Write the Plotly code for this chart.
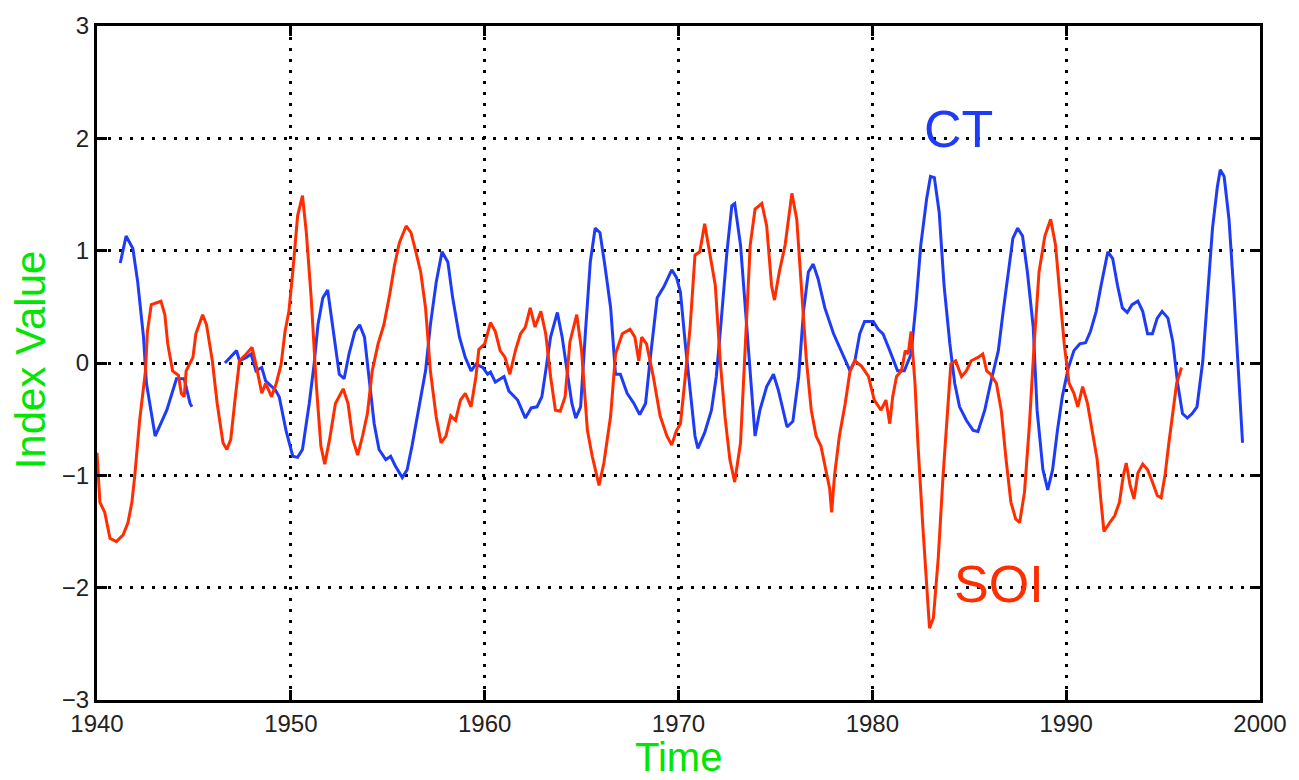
import plotly.graph_objects as go

# ---- data ----
ct_years = [1941.2, 1941.5, 1941.85, 1942.1, 1942.4, 1942.55, 1943.0, 1943.6, 1944.1, 1944.5, 1944.8, 1944.9,
            None,
            1946.6, 1947.2, 1947.35, 1947.7, 1947.95, 1948.2, 1948.5, 1948.7, 1949.2, 1949.4, 1949.75,
            1950.1, 1950.35, 1950.6, 1950.95, 1951.2, 1951.4, 1951.65, 1951.9, 1952.15, 1952.5, 1952.75,
            1953.0, 1953.3, 1953.55, 1953.8, 1954.05, 1954.3, 1954.55, 1954.9, 1955.15, 1955.4, 1955.75,
            1956.0, 1956.25, 1956.6, 1956.95, 1957.2, 1957.5, 1957.8, 1958.1, 1958.35, 1958.7, 1959.0,
            1959.3, 1959.55, 1959.9, 1960.15, 1960.3, 1960.55, 1961.0, 1961.25, 1961.7, 1962.1, 1962.4,
            1962.7, 1962.95, 1963.15, 1963.4, 1963.75, 1964.0, 1964.25, 1964.5, 1964.7, 1964.95, 1965.2,
            1965.45, 1965.7, 1965.95, 1966.2, 1966.5, 1966.75, 1967.0, 1967.35, 1967.7, 1968.0, 1968.3,
            1968.55, 1968.9, 1969.25, 1969.65, 1969.9, 1970.1, 1970.35, 1970.6, 1970.85, 1971.0, 1971.35,
            1971.7, 1971.95, 1972.2, 1972.5, 1972.75, 1972.9, 1973.2, 1973.45, 1973.7, 1973.95, 1974.2,
            1974.55, 1974.9, 1975.15, 1975.6, 1975.9, 1976.2, 1976.45, 1976.7, 1976.95, 1977.2, 1977.55,
            1978.0, 1978.4, 1978.85, 1979.1, 1979.35, 1979.6, 1980.05, 1980.3, 1980.55, 1980.9, 1981.3,
            1981.65, 1982.0, 1982.25, 1982.5, 1982.8, 1983.0, 1983.2, 1983.45, 1983.7, 1984.0, 1984.25,
            1984.5, 1984.85, 1985.2, 1985.45, 1985.8, 1986.1, 1986.5, 1986.75, 1987.0, 1987.25, 1987.5,
            1987.75, 1988.0, 1988.3, 1988.5, 1988.8, 1989.05, 1989.3, 1989.55, 1989.8, 1990.1, 1990.4,
            1990.7, 1991.0, 1991.25, 1991.55, 1991.8, 1992.15, 1992.4, 1992.65, 1992.9, 1993.15, 1993.4,
            1993.7, 1993.95, 1994.2, 1994.45, 1994.7, 1994.95, 1995.25, 1995.5, 1995.75, 1996.0, 1996.25,
            1996.5, 1996.75, 1997.05, 1997.3, 1997.55, 1997.8, 1997.95, 1998.15, 1998.4, 1998.65, 1998.85,
            1999.0, 1999.1]
ct_values = [0.89, 1.13, 1.02, 0.72, 0.23, -0.18, -0.65, -0.42, -0.14, -0.14, -0.36, -0.39,
             None,
             0.0, 0.11, 0.02, 0.05, 0.08, -0.07, -0.04, -0.16, -0.24, -0.3, -0.6,
             -0.83, -0.84, -0.77, -0.36, -0.01, 0.34, 0.58, 0.65, 0.34, -0.1, -0.14,
             0.08, 0.28, 0.34, 0.23, -0.16, -0.54, -0.77, -0.86, -0.83, -0.92, -1.02,
             -0.95, -0.74, -0.42, -0.07, 0.34, 0.72, 0.99, 0.9, 0.58, 0.23, 0.05,
             -0.07, -0.01, -0.04, -0.1, -0.08, -0.17, -0.12, -0.25, -0.33, -0.49, -0.4,
             -0.39, -0.3, -0.07, 0.23, 0.45, 0.23, -0.07, -0.36, -0.49, -0.39, 0.28,
             0.9, 1.2, 1.16, 0.87, 0.49, -0.1, -0.1, -0.27, -0.36, -0.46, -0.36,
             0.05, 0.58, 0.68, 0.83, 0.76, 0.63, 0.17, -0.27, -0.65, -0.76, -0.62,
             -0.42, -0.12, 0.37, 0.99, 1.4, 1.42, 1.05, 0.46, -0.12, -0.65, -0.42,
             -0.21, -0.1, -0.24, -0.57, -0.52, -0.12, 0.46, 0.81, 0.88, 0.75, 0.49,
             0.26, 0.11, -0.07, 0.02, 0.26, 0.37, 0.37, 0.3, 0.26, 0.11, -0.07,
             -0.07, 0.08, 0.52, 1.05, 1.46, 1.66, 1.65, 1.34, 0.69, 0.17, -0.18,
             -0.39, -0.51, -0.6, -0.61, -0.42, -0.18, 0.11, 0.46, 0.81, 1.11, 1.2,
             1.13, 0.81, 0.32, -0.42, -0.95, -1.13, -0.95, -0.6, -0.3, -0.05, 0.11,
             0.17, 0.18, 0.28, 0.46, 0.69, 0.99, 0.93, 0.69, 0.49, 0.45, 0.52,
             0.55, 0.46, 0.26, 0.26, 0.4, 0.46, 0.4, 0.19, -0.18, -0.45, -0.49,
             -0.45, -0.39, 0.02, 0.61, 1.2, 1.57, 1.72, 1.66, 1.28, 0.63, 0.02,
             -0.42, -0.71]

soi_years = [1940.0, 1940.05, 1940.15, 1940.4, 1940.67, 1941.0, 1941.35, 1941.6, 1941.8, 1941.95, 1942.2,
             1942.5, 1942.6, 1942.8, 1943.1, 1943.3, 1943.5, 1943.65, 1943.9, 1944.2, 1944.35, 1944.5,
             1944.6, 1944.95, 1945.1, 1945.45, 1945.65, 1945.95, 1946.2, 1946.5, 1946.7, 1946.9, 1947.1,
             1947.35, 1947.7, 1948.0, 1948.2, 1948.5, 1948.7, 1949.0, 1949.25, 1949.5, 1949.7, 1949.9,
             1950.1, 1950.35, 1950.6, 1950.8, 1951.05, 1951.3, 1951.55, 1951.75, 1952.0, 1952.3, 1952.7,
             1952.95, 1953.2, 1953.45, 1953.7, 1953.95, 1954.2, 1954.5, 1954.8, 1955.1, 1955.35, 1955.6,
             1955.95, 1956.2, 1956.45, 1956.7, 1956.95, 1957.2, 1957.5, 1957.75, 1958.0, 1958.25, 1958.5,
             1958.75, 1959.0, 1959.3, 1959.55, 1959.7, 1960.0, 1960.3, 1960.55, 1960.8, 1961.05, 1961.3,
             1961.6, 1961.85, 1962.1, 1962.35, 1962.6, 1962.9, 1963.15, 1963.4, 1963.65, 1963.9, 1964.15,
             1964.4, 1964.75, 1965.0, 1965.3, 1965.55, 1965.9, 1966.15, 1966.5, 1966.75, 1967.1, 1967.5,
             1967.75, 1967.95, 1968.1, 1968.35, 1968.7, 1969.05, 1969.4, 1969.65, 1969.9, 1970.1, 1970.35,
             1970.6, 1970.85, 1971.1, 1971.35, 1971.6, 1971.9, 1972.15, 1972.4, 1972.65, 1972.9, 1973.2,
             1973.45, 1973.7, 1973.95, 1974.3, 1974.55, 1974.8, 1974.95, 1975.2, 1975.5, 1975.85, 1976.1,
             1976.35, 1976.6, 1976.85, 1977.1, 1977.35, 1977.65, 1977.8, 1977.9, 1978.05, 1978.3, 1978.6,
             1978.85, 1979.1, 1979.45, 1979.8, 1980.1, 1980.45, 1980.7, 1980.9, 1981.05, 1981.25, 1981.5,
             1981.7, 1981.85, 1982.0, 1982.2, 1982.35, 1982.6, 1982.8, 1982.95, 1983.15, 1983.4, 1983.65,
             1983.9, 1984.05, 1984.3, 1984.6, 1984.85, 1985.1, 1985.45, 1985.7, 1985.9, 1986.1, 1986.4,
             1986.65, 1986.9, 1987.15, 1987.4, 1987.6, 1987.85, 1988.1, 1988.35, 1988.6, 1988.9, 1989.2,
             1989.45, 1989.7, 1989.9, 1990.15, 1990.4, 1990.6, 1990.85, 1991.1, 1991.35, 1991.6, 1991.8,
             1991.95, 1992.25, 1992.5, 1992.75, 1992.95, 1993.1, 1993.3, 1993.5, 1993.7, 1993.95, 1994.2,
             1994.45, 1994.7, 1994.9, 1995.1, 1995.3, 1995.5, 1995.7, 1995.95]
soi_values = [-0.8, -0.95, -1.24, -1.33, -1.56, -1.59, -1.53, -1.42, -1.24, -1.0, -0.51,
              -0.07, 0.28, 0.52, 0.54, 0.55, 0.43, 0.17, -0.07, -0.11, -0.27, -0.3,
              -0.07, 0.05, 0.26, 0.43, 0.34, 0.02, -0.36, -0.71, -0.77, -0.68, -0.36,
              0.02, 0.08, 0.14, -0.01, -0.27, -0.18, -0.3, -0.18, -0.01, 0.28, 0.46,
              0.81, 1.31, 1.49, 1.16, 0.58, -0.16, -0.74, -0.9, -0.68, -0.36, -0.23,
              -0.36, -0.68, -0.82, -0.65, -0.45, -0.07, 0.17, 0.34, 0.61, 0.87, 1.07,
              1.22, 1.16, 0.99, 0.81, 0.49, -0.07, -0.48, -0.71, -0.65, -0.47, -0.51,
              -0.33, -0.27, -0.39, -0.12, 0.12, 0.17, 0.36, 0.28, 0.11, 0.05, -0.1,
              0.12, 0.26, 0.32, 0.49, 0.32, 0.46, 0.26, -0.12, -0.42, -0.43, -0.3,
              0.19, 0.43, 0.11, -0.6, -0.83, -1.09, -0.89, -0.47, 0.08, 0.26, 0.3,
              0.23, 0.02, 0.23, 0.17, -0.12, -0.47, -0.65, -0.73, -0.6, -0.54, -0.12,
              0.32, 0.96, 0.99, 1.24, 0.99, 0.69, 0.02, -0.48, -0.86, -1.06, -0.71,
              0.17, 1.05, 1.37, 1.42, 1.22, 0.69, 0.56, 0.81, 1.05, 1.51, 1.28,
              0.63, 0.02, -0.42, -0.65, -0.74, -1.0, -1.12, -1.33, -1.0, -0.65, -0.36,
              -0.07, 0.02, -0.03, -0.12, -0.33, -0.42, -0.33, -0.54, -0.3, -0.12, -0.07,
              0.11, 0.08, 0.28, -0.18, -0.71, -1.44, -2.03, -2.36, -2.27, -1.74, -1.0,
              -0.42, -0.01, 0.02, -0.12, -0.07, 0.02, 0.05, 0.08, -0.07, -0.1, -0.18,
              -0.42, -0.86, -1.24, -1.39, -1.42, -1.15, -0.56, 0.17, 0.81, 1.13, 1.28,
              1.05, 0.58, 0.17, -0.18, -0.27, -0.39, -0.21, -0.36, -0.6, -0.86, -1.24,
              -1.5, -1.42, -1.36, -1.24, -1.0, -0.89, -1.09, -1.21, -0.98, -0.9, -0.95,
              -1.06, -1.18, -1.2, -1.0, -0.71, -0.42, -0.18, -0.04]

x_ticks = [1940, 1950, 1960, 1970, 1980, 1990, 2000]
y_ticks = [-3, -2, -1, 0, 1, 2, 3]

BLUE = "#1e3cf8"
RED = "#ff2d00"
GREEN = "#00e600"
FONT = "Liberation Sans, Arial, sans-serif"

fig = go.Figure()
fig.add_trace(go.Scatter(x=ct_years, y=ct_values, mode="lines", name="CT",
                         line=dict(color=BLUE, width=3), connectgaps=False))
fig.add_trace(go.Scatter(x=soi_years, y=soi_values, mode="lines", name="SOI",
                         line=dict(color=RED, width=3)))

axis_common = dict(
    showline=True, linewidth=3, linecolor="black", mirror="ticks",
    ticks="inside", ticklen=10, tickwidth=2.5, tickcolor="black",
    showgrid=True, gridcolor="black", gridwidth=2.5, griddash="3px,8px",
    zeroline=False,
    tickfont=dict(family=FONT, size=24, color="#222222"),
)
fig.update_xaxes(range=[1940, 2000], tickmode="array", tickvals=x_ticks,
                 ticktext=[str(v) for v in x_ticks], **axis_common)
fig.update_yaxes(range=[-3, 3], tickmode="array", tickvals=y_ticks, **axis_common)

fig.add_annotation(text="Time", xref="paper", yref="paper", x=0.5, y=-0.085,
                   showarrow=False, font=dict(family=FONT, size=40, color=GREEN),
                   xanchor="center", yanchor="middle")
fig.add_annotation(text="Index Value", xref="paper", yref="paper", x=-0.057, y=0.505,
                   textangle=-90, showarrow=False,
                   font=dict(family=FONT, size=42, color=GREEN),
                   xanchor="center", yanchor="middle")
fig.add_annotation(text="CT", x=1984.46, y=2.08, showarrow=False,
                   font=dict(family=FONT, size=52, color=BLUE),
                   xanchor="center", yanchor="middle")
fig.add_annotation(text="SOI", x=1986.52, y=-1.97, showarrow=False,
                   font=dict(family=FONT, size=52, color=RED),
                   xanchor="center", yanchor="middle")

fig.update_layout(
    width=1299, height=780,
    margin=dict(l=97, r=36, t=18, b=80),
    paper_bgcolor="white", plot_bgcolor="white",
    showlegend=False,
)

fig.write_html("out.html")
